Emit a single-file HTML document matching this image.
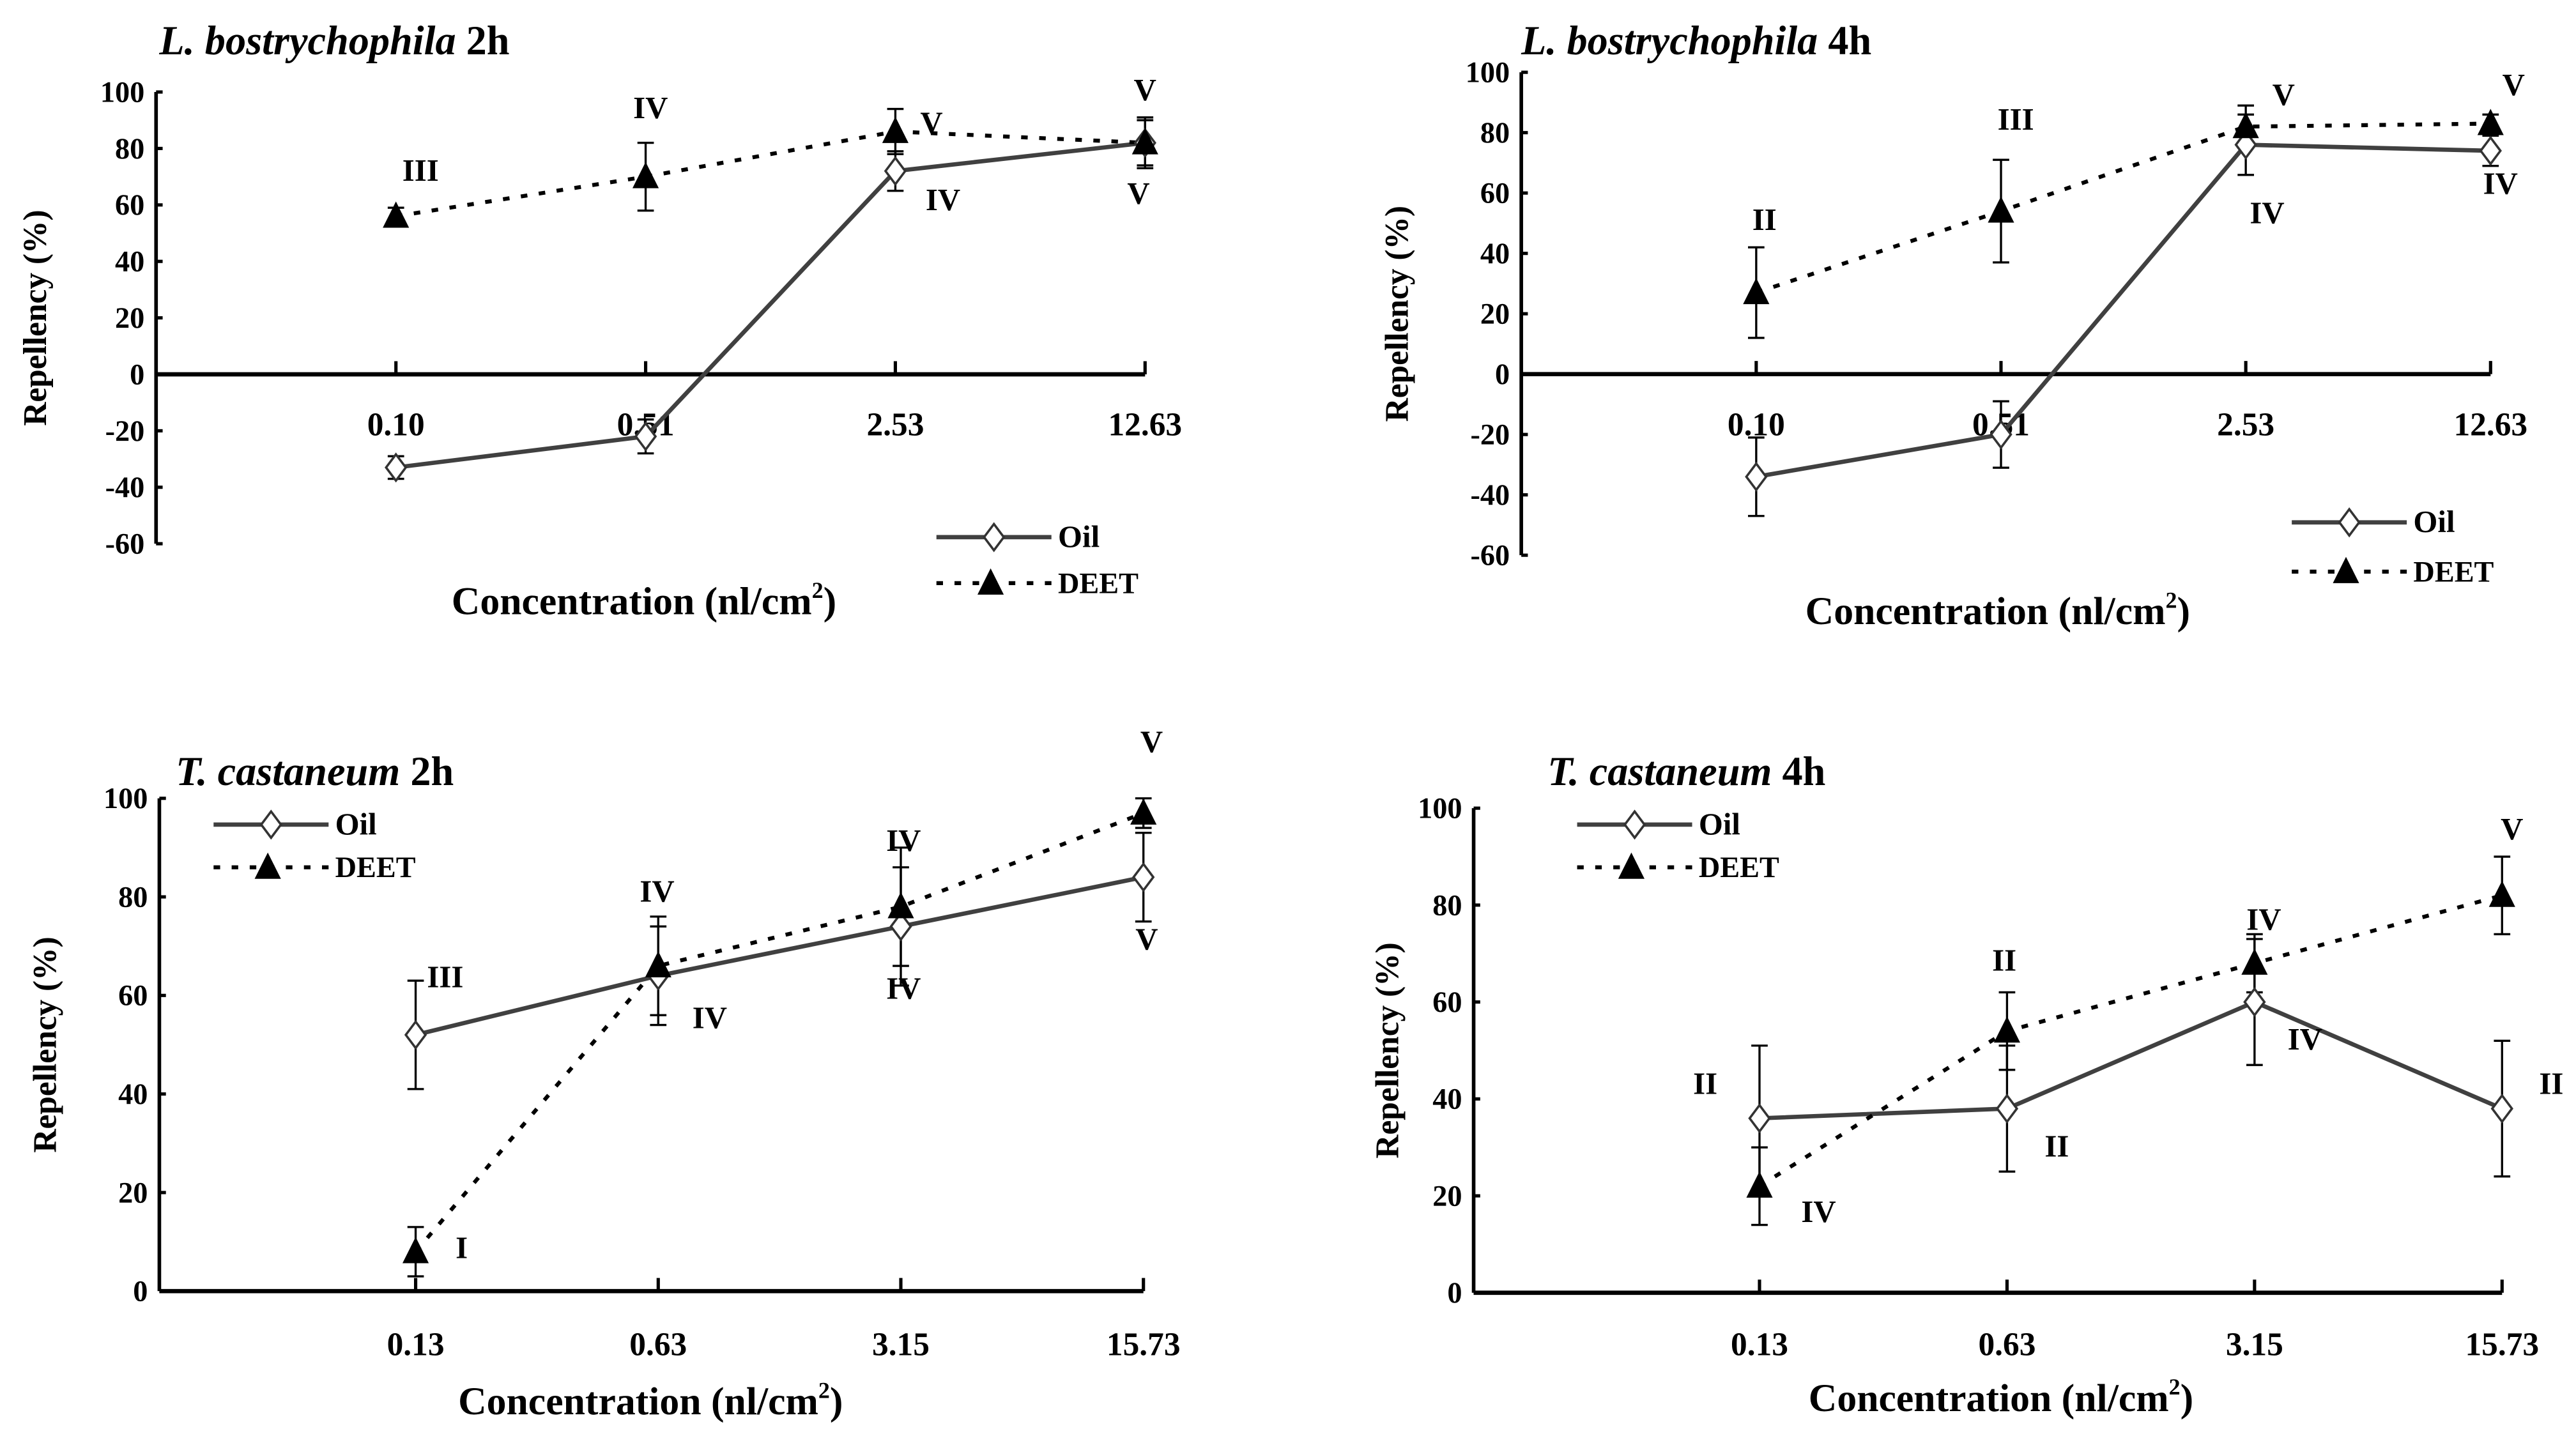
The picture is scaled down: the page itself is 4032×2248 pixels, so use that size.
<!DOCTYPE html>
<html><head><meta charset="utf-8"><style>
html,body{margin:0;padding:0;background:#fff;}
svg{display:block;}
text{font-family:"Liberation Serif",serif;font-weight:bold;fill:#000;}
</style></head><body>
<svg id="chart" width="4032" height="2248" viewBox="0 0 1568 874.2" xmlns="http://www.w3.org/2000/svg"></svg>
<script>
// ---- data (top-level arrays) ----
const lbCats = ["0.10","0.51","2.53","12.63"];
const tcCats = ["0.13","0.63","3.15","15.73"];
const lb2Oil = [-33,-22,72,82];
const lb2OilErr = [4,6,7,8];
const lb2Deet = [56,70,86,82];
const lb2DeetErr = [3,12,8,9];
const lb4Oil = [-34,-20,76,74];
const lb4OilErr = [13,11,10,5];
const lb4Deet = [27,54,82,83];
const lb4DeetErr = [15,17,7,3];
const tc2Oil = [52,64,74,84];
const tc2OilErr = [11,10,12,9];
const tc2Deet = [8,66,78,97];
const tc2DeetErr = [5,10,12,3];
const tc4Oil = [36,38,60,38];
const tc4OilErr = [15,13,13,14];
const tc4Deet = [22,54,68,82];
const tc4DeetErr = [8,8,6,8];
const lbTicks = [100,80,60,40,20,0,-20,-40,-60];
const tcTicks = [100,80,60,40,20,0];

const NS="http://www.w3.org/2000/svg";
const svg=document.getElementById('chart');
function mk(tag,attrs,parent){const e=document.createElementNS(NS,tag);for(const k in attrs)e.setAttribute(k,attrs[k]);(parent||svg).appendChild(e);return e;}
function txt(s,x,y,size,parent,anchor){const t=mk('text',{x:x,y:y,'font-size':size,'text-anchor':anchor||'middle'},parent);t.textContent=s;return t;}

const panels=[
 {id:'lb-2h',title:['L. bostrychophila',' 2h'],tx:97,ty:33,ax:95,x0:241,x1:697,ymax:100,ymin:-60,ytop:56,ybot:331,cats:lbCats,ticks:lbTicks,oil:lb2Oil,oe:lb2OilErr,deet:lb2Deet,de:lb2DeetErr,labY:265,ytx:28,xtc:392,xty:374,leg:[570,327,355],
  ann:[["III",256,110],["IV",396,72],["V",567,81],["V",697,61],["IV",574,128],["V",693,124]]},
 {id:'lb-4h',title:['L. bostrychophila',' 4h'],tx:926,ty:33,ax:926,x0:1069,x1:1516,ymax:100,ymin:-60,ytop:44,ybot:338,cats:lbCats,ticks:lbTicks,oil:lb4Oil,oe:lb4OilErr,deet:lb4Deet,de:lb4DeetErr,labY:265,ytx:857,xtc:1216,xty:380,leg:[1395,318,348],
  ann:[["II",1074,140],["III",1227,79],["V",1390,64],["V",1530,58],["IV",1380,136],["IV",1522,118]]},
 {id:'tc-2h',title:['T. castaneum',' 2h'],tx:107,ty:478,ax:97,x0:253,x1:696,ymax:100,ymin:0,ytop:486,ybot:786,cats:tcCats,ticks:tcTicks,oil:tc2Oil,oe:tc2OilErr,deet:tc2Deet,de:tc2DeetErr,labY:825,ytx:34,xtc:396,xty:861,leg:[130,502,528],
  ann:[["III",271,601],["IV",400,549],["IV",550,518],["V",701,458],["I",281,766],["IV",432,626],["IV",550,608],["V",698,578]]},
 {id:'tc-4h',title:['T. castaneum',' 4h'],tx:942,ty:478,ax:897,x0:1071,x1:1523,ymax:100,ymin:0,ytop:492,ybot:787,cats:tcCats,ticks:tcTicks,oil:tc4Oil,oe:tc4OilErr,deet:tc4Deet,de:tc4DeetErr,labY:825,ytx:851,xtc:1218,xty:859,leg:[960,502,528],
  ann:[["II",1038,666],["II",1220,591],["IV",1378,566],["V",1529,511],["IV",1107,744],["II",1252,704],["IV",1403,639],["II",1553,666]]}
];

function diamond(x,y,g){return mk('path',{d:`M${x} ${y-8}L${x+6} ${y}L${x} ${y+8}L${x-6} ${y}Z`,fill:'#fff',stroke:'#333','stroke-width':1.4},g);}
function tri(x,y,g){return mk('path',{d:`M${x} ${y-9}L${x+8} ${y+7}L${x-8} ${y+7}Z`,fill:'#000'},g);}

panels.forEach(p=>{
 const g=mk('g',{});
 
 
 const ys=v=>p.ytop+(p.ymax-v)/(p.ymax-p.ymin)*(p.ybot-p.ytop);
 const n=p.cats.length;
 const xs=i=>p.x0+i*(p.x1-p.x0)/(n-1);
 const t=mk('text',{x:p.tx,y:p.ty,'font-size':25},g);
 
 
 const s1=mk('tspan',{'font-style':'italic'},t);s1.textContent=p.title[0];
 const s2=mk('tspan',{},t);s2.textContent=p.title[1];
 const ya=mk('line',{x1:p.ax,y1:p.ytop,x2:p.ax,y2:p.ybot,stroke:'#000','stroke-width':2.2},g);
 
 
 p.ticks.forEach(v=>{
  mk('line',{x1:p.ax,y1:ys(v),x2:p.ax+4,y2:ys(v),stroke:'#000','stroke-width':2},g);
  const tl=txt(String(v),p.ax-7,ys(v)+6,18,g,'end');
  
  
 });
 const xa=mk('line',{x1:p.ax,y1:ys(0),x2:p.x1,y2:ys(0),stroke:'#000','stroke-width':2.6},g);
 
 
 p.cats.forEach((c,i)=>{
  mk('line',{x1:xs(i),y1:ys(0)-8,x2:xs(i),y2:ys(0),stroke:'#000','stroke-width':2},g);
  const cl=txt(c,xs(i),p.labY,20,g);
  
  
 });
 const yt=txt('Repellency (%)',0,0,20,g);
 yt.setAttribute('transform',`translate(${p.ytx},${(p.ytop+p.ybot)/2}) rotate(-90)`);
 
 
 const xt=mk('text',{x:p.xtc,y:p.xty,'font-size':24,'text-anchor':'middle'},g);
 
 
 xt.appendChild(document.createTextNode('Concentration (nl/cm'));
 const sup=mk('tspan',{'font-size':14,dy:-10},xt);sup.textContent='2';
 const cl2=mk('tspan',{dy:10},xt);cl2.textContent=')';
 [[p.oil,p.oe,'oil'],[p.deet,p.de,'deet']].forEach(([vals,errs,nm])=>{
  vals.forEach((v,i)=>{
   const x=xs(i),a=ys(v+errs[i]),b=ys(v-errs[i]);
   const eb=mk('path',{d:`M${x} ${a}V${b}M${x-5} ${a}H${x+5}M${x-5} ${b}H${x+5}`,stroke:'#000','stroke-width':1.3,fill:'none'},g);
   
   
  });
 });
 const oilLine=mk('polyline',{points:p.oil.map((v,i)=>xs(i)+','+ys(v)).join(' '),fill:'none',stroke:'#404040','stroke-width':2.6},g);
 
 
 const deetLine=mk('polyline',{points:p.deet.map((v,i)=>xs(i)+','+ys(v)).join(' '),fill:'none',stroke:'#000','stroke-width':2.4,'stroke-dasharray':'4 7'},g);
 
 
 p.oil.forEach((v,i)=>{const m=diamond(xs(i),ys(v),g);
  
  });
 p.deet.forEach((v,i)=>{const m=tri(xs(i),ys(v),g);
  
  });
 p.ann.forEach(a=>{const at=txt(a[0],a[1],a[2],19,g);
  
  });
 const [lx,ly1,ly2]=p.leg;
 const lg=mk('g',{},g);
 
 
 mk('line',{x1:lx,y1:ly1,x2:lx+70,y2:ly1,stroke:'#404040','stroke-width':2.6},lg);
 diamond(lx+35,ly1,lg);
 const lo=txt('Oil',lx+74,ly1+6,19,lg,'start');
 
 
 mk('line',{x1:lx,y1:ly2,x2:lx+70,y2:ly2,stroke:'#000','stroke-width':2.4,'stroke-dasharray':'4 7'},lg);
 tri(lx+33,ly2,lg);
 const ld=txt('DEET',lx+74,ly2+6,18,lg,'start');
 
 
});
</script>
</body></html>
